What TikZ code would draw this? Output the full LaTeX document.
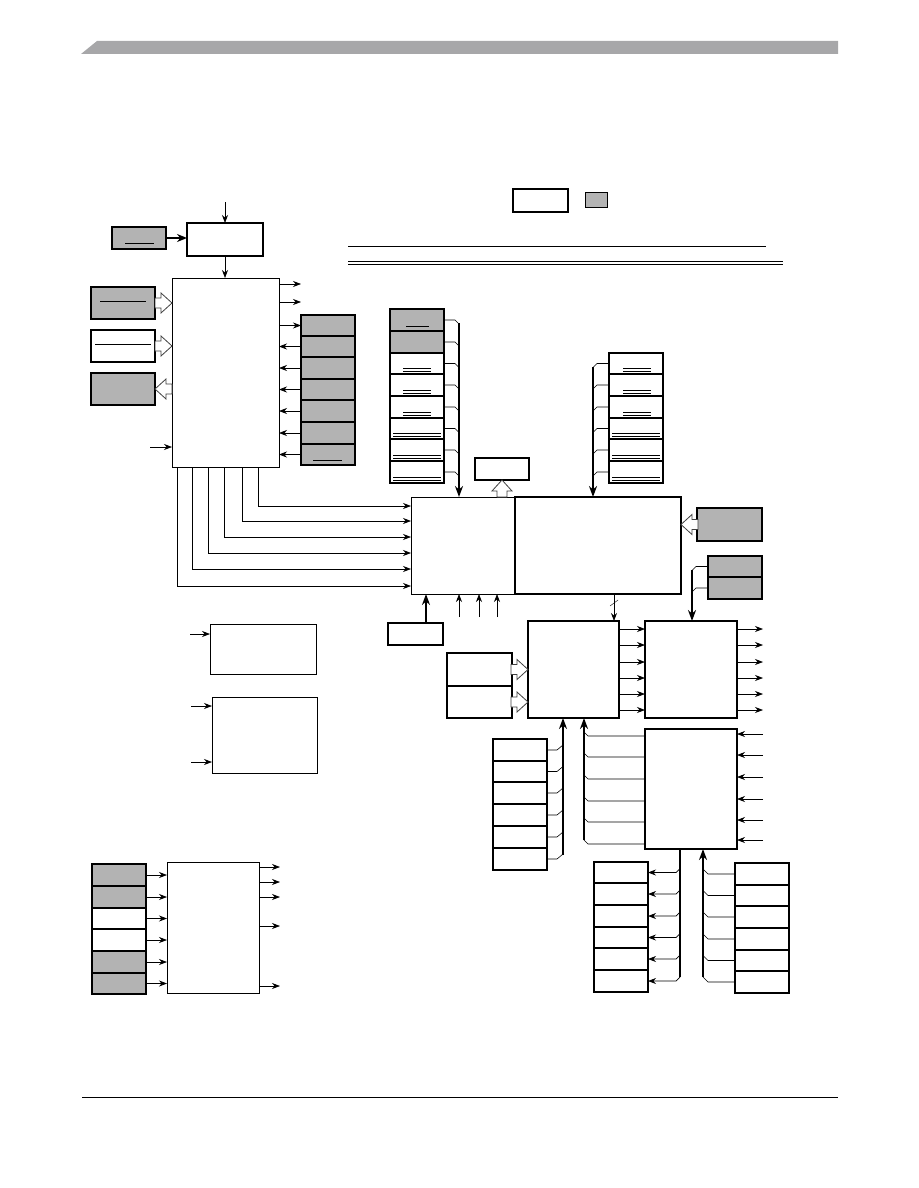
\documentclass[tikz,border=0pt]{standalone}
\usepackage{tikz}
\usetikzlibrary{arrows.meta,positioning}

\definecolor{boxgray}{RGB}{179,179,179}
\definecolor{bargray}{RGB}{167,167,169}

\tikzset{
	blk/.style={draw, line width=0.8pt, inner sep=0pt, outer sep=0pt, anchor=north west},
	thk/.style={line width=1.6pt},
	shd/.style={fill=boxgray},
	arr/.style={line width=0.7pt, -{Stealth[length=8pt,width=6pt]}},
	bus/.style={line width=2.4pt, -{Stealth[length=11pt,width=8pt]}},
	busline/.style={line width=2.4pt},
	stub/.style={line width=0.6pt},
	hollow/.pic={\draw[fill=white, draw=black!75, line width=0.8pt]
		(0,0) -- (-11,-10) -- (-11,-5) -- (-17,-5) -- (-17,5) -- (-11,5) -- (-11,10) -- cycle;}
}

% box from its top left to its bottom right corner
\newcommand{\blockbox}[6][]{%
	\node[blk,#1,minimum width={#4-#2},minimum height={#5-#3}] (#6) at (#2,#3) {};}

\begin{document}
\begin{tikzpicture}[x=1pt,y=-1pt]
	\useasboundingbox (0,0) rectangle (918,1188);
	%
	\fill[bargray] (81,54) -- (97,41) -- (838,41) -- (838,54) -- cycle;
	\draw[line width=0.6pt] (82,1097) -- (838,1097);
	%
	\blockbox[thk]{513}{189}{568}{212}{legw}
	\blockbox[shd]{585}{192}{607}{207}{legg}
	\draw[line width=0.8pt] (348,246) -- (766,246);
	\draw[line width=0.8pt] (348,261) -- (783,261) (348,264) -- (783,264);
	%
	\blockbox[thk]{187}{223}{263}{256}{clk}
	\blockbox[thk,shd]{112}{227}{166}{249}{xtal}
	\draw (125,243) -- (154,243);
	\coordinate (clkin) at (225,202);
	\draw[arr] (clkin) -- (clk.north);
	\draw[line width=2pt,-{Stealth[length=10pt,width=8pt]}] (xtal.east) -- (xtal.east -| clk.west);
	%
	\blockbox{172}{278}{279}{467}{core}
	\draw[arr] (clk.south) -- (clk.south |- core.north);
	\blockbox[thk,shd]{91}{287}{155}{319}{ina}
	\blockbox[thk]{91}{330}{155}{362}{inb}
	\blockbox[thk,shd]{91}{373}{155}{405}{outa}
	\draw (100,301) -- (146,301);
	\draw (95,344) -- (151,344);
	\pic at (ina.east -| core.west) {hollow};
	\pic at (inb.east -| core.west) {hollow};
	\pic[rotate=180] at (outa.east) {hollow};
	\coordinate (rst) at (150,447);
	\draw[arr] (rst) -- (rst -| core.west);
	\foreach \y in {284,302} \draw[arr] (core.east |- 0,\y) -- ++(22,0);
	%
	\foreach \i/\ya/\yb in {1/315/336,2/336/357,3/357/379,4/379/400,5/400/422,6/422/444,7/444/465}
		{\blockbox[thk,shd]{301}{\ya}{355}{\yb}{pr\i}}
	\draw (313,460) -- (342,460);
	\draw[arr] (core.east |- pr1.west) -- (pr1.west);
	\foreach \i in {2,...,7} \draw[arr] (pr\i.west) -- (pr\i.west -| core.east);
	%
	\blockbox{411}{497}{515}{594}{ctl}
	\blockbox[thk]{515}{497}{681}{594}{mem}
	\foreach \x/\y in {177/586,192/569,208/553,224/537,242/521,258/506}
		\draw[arr] (core.south -| \x,0) |- (ctl.west |- 0,\y);
	%
	\foreach \i/\ya/\yb in {1/309/331,2/331/353}
		{\blockbox[thk,shd]{390}{\ya}{444}{\yb}{sa\i}}
	\foreach \i/\ya/\yb in {3/353/374,4/374/396,5/396/418,6/418/439,7/439/461,8/461/483}
		{\blockbox[thk]{390}{\ya}{444}{\yb}{sa\i}}
	\draw (406,326) -- (429,326);
	\foreach \y in {374,396,418} \draw (403,\y-6) -- (431,\y-6) (403,\y-3) -- (431,\y-3);
	\foreach \y in {439,461,483} \draw (393,\y-6) -- (441,\y-6) (393,\y-3) -- (441,\y-3);
	\foreach \i in {1,...,8} \draw[stub] (sa\i.east) -- ++(11,0) -- ++(4,4);
	\coordinate (b1) at (459,323);
	\draw[bus] (b1) -- (b1 |- ctl.north);
	%
	\blockbox[thk]{475}{458}{529}{480}{flag}
	\pic[rotate=90] at (flag.south) {hollow};
	%
	\foreach \i/\ya/\yb in {1/353/374,2/374/396,3/396/418,4/418/439,5/439/461,6/461/483}
		{\blockbox[thk]{609}{\ya}{663}{\yb}{sb\i}}
	\foreach \y in {374,396,418} \draw (623,\y-6) -- (651,\y-6) (623,\y-3) -- (651,\y-3);
	\foreach \y in {439,461,483} \draw (612,\y-6) -- (660,\y-6) (612,\y-3) -- (660,\y-3);
	\foreach \i in {1,...,6} \draw[stub] (sb\i.west) -- ++(-12,0) -- ++(-4,4);
	\coordinate (b2) at (593,367);
	\draw[bus] (b2) -- (b2 |- mem.north);
	%
	\blockbox[thk,shd]{697}{508}{762}{541}{ext}
	\pic[rotate=180] at (ext.west -| mem.east) {hollow};
	\blockbox[thk,shd]{708}{556}{762}{577}{pa}
	\blockbox[thk,shd]{708}{577}{762}{599}{pb}
	\draw[stub] (pa.west) -- ++(-12,0) -- ++(-4,4);
	\draw[stub] (pb.west) -- ++(-12,0) -- ++(-4,4);
	%
	\blockbox[thk]{388}{623}{443}{645}{dbg}
	\draw[bus] (dbg.north -| 426,0) -- (ctl.south -| 426,0);
	\foreach \x in {459,479,497} \draw[arr] (ctl.south -| \x,0) ++(0,23) -- (ctl.south -| \x,0);
	%
	\blockbox[thk]{528}{621}{619}{718}{mux}
	\blockbox[thk]{645}{621}{737}{718}{drv}
	\coordinate (b3) at (692,570);
	\draw[bus] (b3) -- (b3 |- drv.north);
	\draw[arr] (mem.south -| 614,0) -- (mux.north -| 614,0);
	\draw (610,606) -- (618,600);
	\foreach \y in {629,645,662,678,694,710} {
		\draw[arr] (mux.east |- 0,\y) -- (drv.west |- 0,\y);
		\draw[arr] (drv.east |- 0,\y) -- ++(26,0);
	}
	\blockbox[thk]{447}{653}{512}{686}{ana}
	\blockbox[thk]{447}{686}{512}{718}{anb}
	\pic at (ana.east -| mux.west) {hollow};
	\pic at (anb.east -| mux.west) {hollow};
	%
	\blockbox[thk]{645}{729}{737}{849}{tmr}
	\foreach \y in {734,755,777,799,820,840} \draw[arr] (tmr.east |- 0,\y) ++(26,0) -- (tmr.east |- 0,\y);
	\foreach \y in {736,757,779,801,822,844} \draw[stub] (tmr.west |- 0,\y) -- ++(-57,0) -- ++(-4,-4);
	\coordinate (b4) at (584,840);
	\draw[bus] (b4) -- (b4 |- mux.south);
	%
	\foreach \i/\ya/\yb in {1/739/761,2/761/782,3/782/804,4/804/826,5/826/848,6/848/870}
		{\blockbox[thk]{493}{\ya}{547}{\yb}{sc\i}}
	\foreach \i in {1,...,6} \draw[stub] (sc\i.east) -- ++(10,0) -- ++(6,-5);
	\coordinate (b5) at (563,855);
	\draw[bus] (b5) -- (b5 |- mux.south);
	%
	\foreach \i/\ya/\yb in {1/862/883,2/883/905,3/905/927,4/927/948,5/948/970,6/970/992}
		{\blockbox[thk]{594}{\ya}{648}{\yb}{sd\i}}
	\coordinate (b6) at (680,977);
	\draw[busline] (b6 |- tmr.south) -- (b6);
	\foreach \i in {1,...,6} \draw[arr] (sd\i.east) ++(32,-4) -- ++(-4,4) -- (sd\i.east);
	\foreach \i/\ya/\yb in {1/863/885,2/885/906,3/906/928,4/928/950,5/950/971,6/971/993}
		{\blockbox[thk]{735}{\ya}{789}{\yb}{se\i}}
	\foreach \i in {1,...,6} \draw[stub] (se\i.west) -- ++(-27,0) -- ++(-5,-5);
	\coordinate (b7) at (703,977);
	\draw[bus] (b7) -- (b7 |- tmr.south);
	%
	\blockbox{210}{624}{316}{674}{wdg}
	\blockbox{212}{697}{317}{773}{pll}
	\draw[arr] (wdg.west |- 0,634) ++(-20,0) -- (wdg.west |- 0,634);
	\foreach \y in {706,762} \draw[arr] (pll.west |- 0,\y) ++(-21,0) -- (pll.west |- 0,\y);
	%
	\foreach \i/\ya/\yb in {1/864/886,2/886/908,5/951/973,6/973/994}
		{\blockbox[thk,shd]{92}{\ya}{146}{\yb}{sf\i}}
	\foreach \i/\ya/\yb in {3/908/929,4/929/951}
		{\blockbox[thk]{92}{\ya}{146}{\yb}{sf\i}}
	\blockbox{167}{862}{259}{993}{adc}
	\foreach \i in {1,...,6} \draw[arr] (sf\i.east) -- (sf\i.east -| adc.west);
	\foreach \y in {867,882,897,926,986} \draw[arr] (adc.east |- 0,\y) -- ++(21,0);
\end{tikzpicture}
\end{document}
